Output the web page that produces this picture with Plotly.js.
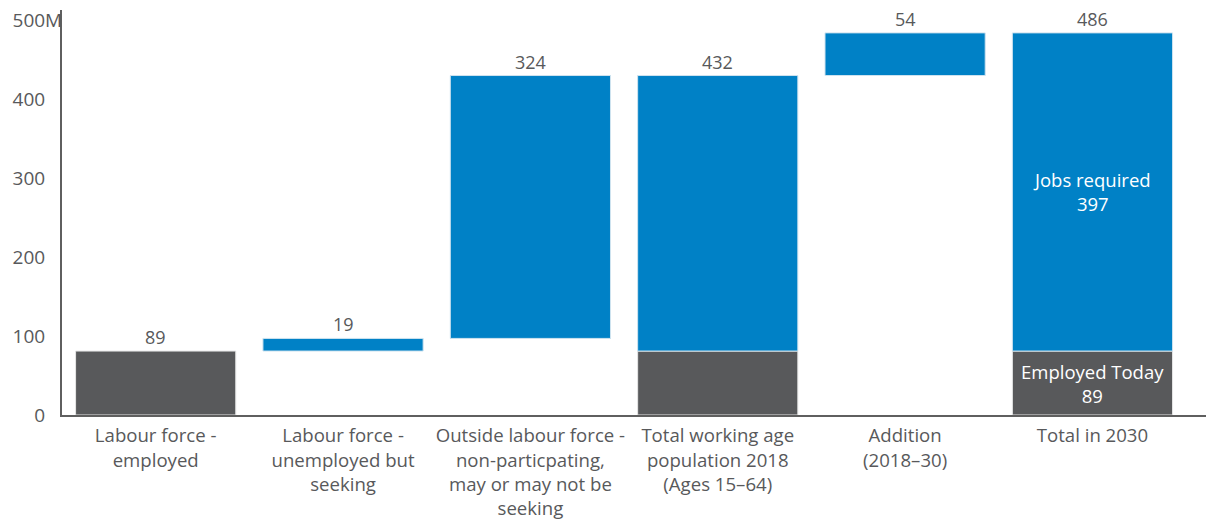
<!DOCTYPE html>
<html>
<head>
<meta charset="utf-8">
<script src="https://cdn.plot.ly/plotly-3.0.1.min.js"></script>
<style>
  html, body { margin: 0; padding: 0; background: #ffffff; }
  #chart { width: 1206px; height: 519px; }
</style>
</head>
<body>
<div id="chart"></div>
<script>
// Categories (x tick labels)
const categories = [
  'Labour force -<br>employed',
  'Labour force -<br>unemployed but<br>seeking',
  'Outside labour force -<br>non-particpating,<br>may or may not be<br>seeking',
  'Total working age<br>population 2018<br>(Ages 15–64)',
  'Addition<br>(2018–30)',
  'Total in 2030'
];

// Grey (employed) segments as drawn, in millions
const employedHeight = [81, null, null, 81, null, 81];

// Blue floating segments as drawn: base and height, in millions
const blueBase   = [null, 81, 97, 81, 430, 81];
const blueHeight = [null, 16, 333, 349, 54, 403];

// Value labels shown above each bar
const topLabels = ['89', '19', '324', '432', '54', '486'];

// Labels shown inside the last bar
const insideBlueLabel = 'Jobs required<br>397';
const insideGreyLabel = 'Employed Today<br>89';

// Y axis ticks
const yTickVals = [0, 100, 200, 300, 400, 500];
const yTickText = ['0', '100', '200', '300', '400', '500'];

const BLUE = '#0081C6';
const GREY = '#58595B';
const TEXT = '#58595B';
const FONT = '"Open Sans", Roboto, sans-serif';

const traces = [
  {
    type: 'bar',
    x: categories,
    y: employedHeight,
    width: 0.855,
    marker: { color: GREY, line: { color: '#e6e6e6', width: 1 } },
    hoverinfo: 'none'
  },
  {
    type: 'bar',
    x: categories,
    y: blueHeight,
    base: blueBase,
    width: 0.855,
    marker: { color: BLUE, line: { color: '#cfe3ef', width: 1 } },
    hoverinfo: 'none'
  }
];

// top value labels at bar tops
const annotations = categories.map((c, i) => {
  const top = blueBase[i] != null ? blueBase[i] + blueHeight[i] : employedHeight[i];
  return {
    x: c, y: top, xref: 'x', yref: 'y',
    text: topLabels[i], showarrow: false,
    yanchor: 'bottom', yshift: 0,
    font: { family: FONT, size: 18, color: TEXT }
  };
});

const last = categories.length - 1;
annotations.push({
  x: categories[last], y: blueBase[last] + blueHeight[last] / 2,
  xref: 'x', yref: 'y', text: insideBlueLabel, showarrow: false,
  font: { family: FONT, size: 18.5, color: '#ffffff' }
});
annotations.push({
  x: categories[last], y: employedHeight[last] / 2,
  xref: 'x', yref: 'y', text: insideGreyLabel, showarrow: false,
  font: { family: FONT, size: 18.5, color: '#ffffff' }
});
// unit suffix on top tick
annotations.push({
  x: 0, xref: 'paper', y: 500, yref: 'y', text: 'M', showarrow: false,
  xanchor: 'right', xshift: 2,
  font: { family: FONT, size: 19, color: TEXT }
});

const layout = {
  width: 1206, height: 519,
  margin: { l: 62, r: 0, t: 10, b: 104 },
  paper_bgcolor: '#ffffff', plot_bgcolor: '#ffffff',
  barmode: 'overlay',
  showlegend: false,
  font: { family: FONT, size: 18, color: TEXT },
  xaxis: {
    type: 'category',
    range: [-0.5, 5.606],
    showline: true, linecolor: '#5f5f5f', linewidth: 2,
    showgrid: false, zeroline: false, ticks: '',
    ticklabelstandoff: 3,
    tickfont: { family: FONT, size: 18.6, color: TEXT },
    fixedrange: true
  },
  yaxis: {
    range: [0, 513],
    showline: true, linecolor: '#5f5f5f', linewidth: 2,
    showgrid: false, zeroline: false, ticks: '',
    tickvals: yTickVals, ticktext: yTickText,
    ticklabelstandoff: 11,
    tickfont: { family: FONT, size: 19, color: TEXT },
    fixedrange: true
  },
  annotations: annotations
};

Plotly.newPlot('chart', traces, layout, { staticPlot: true, displayModeBar: false });
</script>
</body>
</html>
